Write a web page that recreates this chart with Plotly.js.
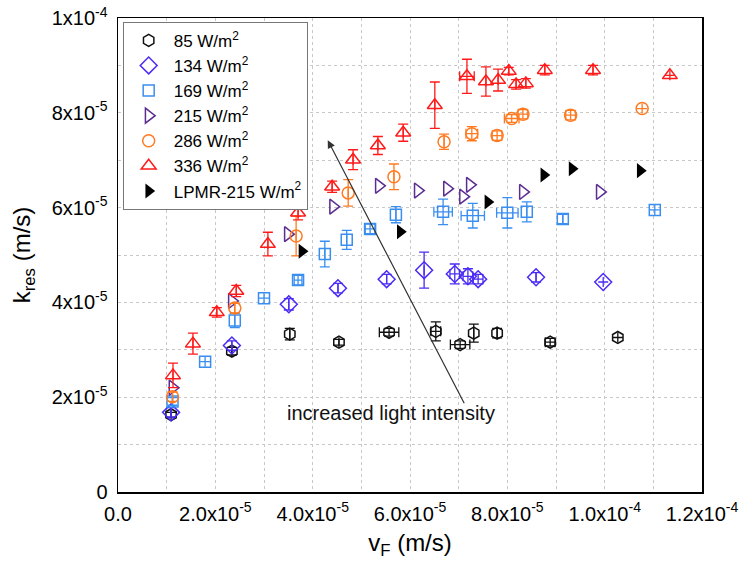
<!DOCTYPE html>
<html><head><meta charset="utf-8">
<script src="https://cdn.plot.ly/plotly-3.0.1.min.js"></script>
<style>body{margin:0;background:#fff}#c{width:743px;height:567px}</style>
</head><body><div id="c"></div>
<script>
// 85 W/m2
const x85 = [1.09e-5,2.34e-5,3.53e-5,4.54e-5,5.57e-5,6.53e-5,7.03e-5,7.31e-5,7.79e-5,8.88e-5,10.27e-5];
const y85 = [1.63e-5,2.97e-5,3.33e-5,3.16e-5,3.37e-5,3.39e-5,3.11e-5,3.35e-5,3.35e-5,3.16e-5,3.26e-5];
const ey85 = [0.05e-5,0.08e-5,0.12e-5,0.06e-5,0.08e-5,0.2e-5,0.08e-5,0.19e-5,0.1e-5,0.08e-5,0];
const ex85 = [0,0,0,0,0.2e-5,0.1e-5,0.2e-5,0,0,0.1e-5,0];
// 134 W/m2
const x134 = [1.09e-5,2.34e-5,3.51e-5,4.52e-5,5.52e-5,6.29e-5,6.92e-5,7.19e-5,7.40e-5,8.59e-5,9.97e-5];
const y134 = [1.68e-5,3.09e-5,3.96e-5,4.30e-5,4.49e-5,4.68e-5,4.60e-5,4.55e-5,4.49e-5,4.53e-5,4.43e-5];
const ey134 = [0.1e-5,0.1e-5,0.12e-5,0.1e-5,0.1e-5,0.38e-5,0.21e-5,0.16e-5,0.1e-5,0.1e-5,0];
const ex134 = [0,0,0,0,0,0,0.1e-5,0.1e-5,0.1e-5,0,0];
// 169 W/m2
const x169 = [1.12e-5,1.79e-5,2.40e-5,3.00e-5,3.70e-5,4.25e-5,4.70e-5,5.18e-5,5.71e-5,6.68e-5,7.29e-5,8.00e-5,8.40e-5,9.14e-5,11.03e-5];
const y169 = [1.91e-5,2.75e-5,3.62e-5,4.09e-5,4.47e-5,5.02e-5,5.32e-5,5.55e-5,5.85e-5,5.91e-5,5.83e-5,5.89e-5,5.91e-5,5.76e-5,5.95e-5];
const ey169 = [0.08e-5,0,0.15e-5,0,0.1e-5,0.27e-5,0.2e-5,0.1e-5,0.17e-5,0.27e-5,0.26e-5,0.32e-5,0.21e-5,0.1e-5,0];
const ex169 = [0,0,0,0,0.08e-5,0,0,0.1e-5,0,0.19e-5,0.24e-5,0.22e-5,0,0,0];
// 215 W/m2
const x215 = [1.12e-5,2.34e-5,3.49e-5,4.42e-5,5.36e-5,6.16e-5,6.76e-5,7.09e-5,7.23e-5,8.32e-5,9.90e-5];
const y215 = [2.20e-5,4.03e-5,5.44e-5,6.02e-5,6.46e-5,6.36e-5,6.40e-5,6.23e-5,6.48e-5,6.33e-5,6.33e-5];
// 286 W/m2
const x286 = [1.12e-5,2.40e-5,3.66e-5,4.73e-5,5.67e-5,6.70e-5,7.27e-5,7.79e-5,8.09e-5,8.32e-5,9.30e-5,10.77e-5];
const y286 = [2.01e-5,3.88e-5,5.40e-5,6.31e-5,6.65e-5,7.39e-5,7.56e-5,7.52e-5,7.88e-5,7.97e-5,7.95e-5,8.09e-5];
const ey286 = [0.1e-5,0.1e-5,0.42e-5,0.28e-5,0.27e-5,0.16e-5,0.15e-5,0.1e-5,0.08e-5,0.1e-5,0.1e-5,0];
const ex286 = [0,0,0,0,0,0,0.12e-5,0.1e-5,0.15e-5,0.1e-5,0.1e-5,0];
// 336 W/m2
const x336 = [1.13e-5,1.54e-5,2.03e-5,2.43e-5,3.08e-5,3.70e-5,4.40e-5,4.83e-5,5.34e-5,5.86e-5,6.51e-5,7.17e-5,7.56e-5,7.81e-5,8.03e-5,8.18e-5,8.38e-5,8.77e-5,9.76e-5,11.34e-5];
const y336 = [2.46e-5,3.13e-5,3.79e-5,4.24e-5,5.23e-5,5.89e-5,6.44e-5,7.01e-5,7.31e-5,7.58e-5,8.16e-5,8.77e-5,8.66e-5,8.69e-5,8.88e-5,8.60e-5,8.62e-5,8.90e-5,8.90e-5,8.79e-5];
const ey336 = [0.26e-5,0.22e-5,0.1e-5,0.12e-5,0.25e-5,0.15e-5,0.12e-5,0.21e-5,0.19e-5,0.18e-5,0.49e-5,0.36e-5,0.31e-5,0.23e-5,0.08e-5,0.1e-5,0.1e-5,0.1e-5,0.1e-5,0];
const ex336 = [0,0,0,0,0,0,0,0,0,0,0,0.15e-5,0,0,0,0,0,0,0,0];
// LPMR-215 W/m2
const xLP = [3.78e-5,5.80e-5,7.60e-5,8.75e-5,9.33e-5,10.73e-5];
const yLP = [5.08e-5,5.49e-5,6.12e-5,6.69e-5,6.82e-5,6.78e-5];

const names = ['85 W/m<sup>2</sup>','134 W/m<sup>2</sup>','169 W/m<sup>2</sup>','215 W/m<sup>2</sup>','286 W/m<sup>2</sup>','336 W/m<sup>2</sup>','LPMR-215 W/m<sup>2</sup>'];
const xTickVals = [0,1e-5,2e-5,3e-5,4e-5,5e-5,6e-5,7e-5,8e-5,9e-5,1e-4,1.1e-4,1.2e-4];
const xTickText = ['0.0','','2.0x10<sup>-5</sup>','','4.0x10<sup>-5</sup>','','6.0x10<sup>-5</sup>','','8.0x10<sup>-5</sup>','','1.0x10<sup>-4</sup>','','1.2x10<sup>-4</sup>'];
const yTickVals = [0,1e-5,2e-5,3e-5,4e-5,5e-5,6e-5,7e-5,8e-5,9e-5,1e-4];
const yTickText = ['0','','2x10<sup>-5</sup>','','4x10<sup>-5</sup>','','6x10<sup>-5</sup>','','8x10<sup>-5</sup>','','1x10<sup>-4</sup>'];

function tr(x,y,ey,ex,name,sym,color,size,lw){
  const t = {x:x,y:y,name:name,type:'scatter',mode:'markers',
    marker:{symbol:sym,size:size,color:color,line:{color:color,width:lw}}};
  if(ey) t.error_y = {type:'data',array:ey,visible:true,color:color,thickness:1.3,width:5};
  if(ex) t.error_x = {type:'data',array:ex,visible:true,color:color,thickness:1.3,width:5};
  return t;
}
const data = [
  tr(x85,y85,ey85,ex85,names[0],'hexagon-open','#111111',12,1.5),
  tr(x134,y134,ey134,ex134,names[1],'diamond-open','#4a2cf5',13,1.5),
  tr(x169,y169,ey169,ex169,names[2],'square-open','#3a8ef0',11,1.5),
  tr(x215,y215,null,null,names[3],'triangle-right-open','#5b2d90',13,1.5),
  tr(x286,y286,ey286,ex286,names[4],'circle-open','#ff7a20',12,1.5),
  tr(x336,y336,ey336,ex336,names[5],'triangle-up-open','#ff1a1a',13,1.5),
  tr(xLP,yLP,null,null,names[6],'triangle-right','#000000',13,0)
];
const font = 'Liberation Sans, Arial, sans-serif';
const layout = {
  width:743,height:567,
  margin:{l:118,r:41,t:18,b:75},
  paper_bgcolor:'#fff',plot_bgcolor:'#fff',
  font:{family:font,color:'#000'},
  showlegend:true,
  legend:{x:0.008,y:0.992,xanchor:'left',yanchor:'top',bgcolor:'#fff',bordercolor:'#777',borderwidth:1,
    font:{size:17,family:font},tracegroupgap:0,itemwidth:40},
  xaxis:{range:[0,1.2e-4],tickmode:'array',tickvals:xTickVals,ticktext:xTickText,
    showgrid:true,gridcolor:'#c8c8c8',griddash:'dot',gridwidth:1,zeroline:false,
    showline:true,mirror:true,linecolor:'#000',linewidth:1.5,ticks:'',ticklabelstandoff:3,
    tickfont:{size:20,family:font},
    title:{text:'v<sub>F</sub> (m/s)',font:{size:24,family:font},standoff:10}},
  yaxis:{range:[0,1e-4],tickmode:'array',tickvals:yTickVals,ticktext:yTickText,
    showgrid:true,gridcolor:'#c8c8c8',griddash:'dot',gridwidth:1,zeroline:false,
    showline:true,mirror:true,linecolor:'#000',linewidth:1.5,ticks:'',ticklabelstandoff:5,
    tickfont:{size:20,family:font},
    title:{text:'k<sub>res</sub> (m/s)',font:{size:24,family:font},standoff:14}},
  annotations:[
    {x:4.31e-5,y:7.42e-5,ax:7.13e-5,ay:1.84e-5,xref:'x',yref:'y',axref:'x',ayref:'y',
     text:'',showarrow:true,arrowhead:2,arrowsize:1.3,arrowwidth:1.2,arrowcolor:'#333'},
    {x:5.6e-5,y:1.66e-5,xref:'x',yref:'y',text:'increased light intensity',showarrow:false,
     font:{size:20,family:font,color:'#111'}}
  ]
};
Plotly.newPlot('c',data,layout,{displayModeBar:false,staticPlot:true});
</script></body></html>
